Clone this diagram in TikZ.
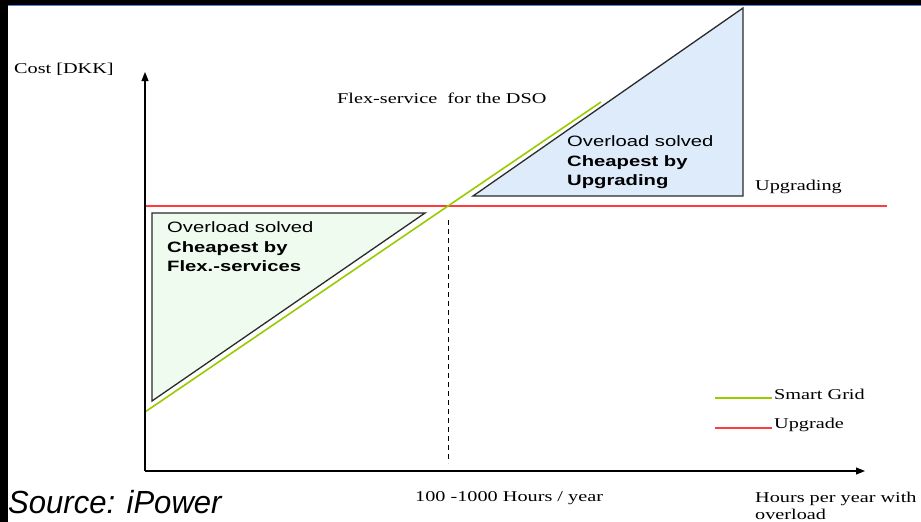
\documentclass[tikz,border=0pt]{standalone}
\usepackage{fontspec}
\setmainfont[FakeStretch=1.35]{Liberation Serif}
\newfontfamily\wsans[FakeStretch=1.35]{Liberation Sans}
\newfontfamily\nsans[FakeStretch=0.97]{Liberation Sans}
\usetikzlibrary{arrows.meta}
\definecolor{sgreen}{HTML}{99CC00}
\definecolor{ured}{HTML}{FF3B3B}
\definecolor{tgreen}{HTML}{EEFBEE}
\definecolor{tblue}{HTML}{DDEBFA}
\definecolor{frameblue}{HTML}{4A86D8}
\definecolor{edge}{HTML}{2A2A2A}
\begin{document}
\begin{tikzpicture}[x=1pt,y=-1pt,
  lbl/.style={inner sep=0pt,anchor=base west,font=\fontsize{15}{17}\selectfont},
  tlbl/.style={inner sep=0pt,anchor=base west,font=\wsans\fontsize{15}{17}\selectfont},
  tbold/.style={tlbl,font=\wsans\bfseries\fontsize{15}{17}\selectfont},
  axisline/.style={line width=1.1pt,-{Triangle[length=9pt,width=7pt]}},
  tri/.style={draw=edge,line width=1.3pt,line join=miter},
  smart/.style={draw=sgreen,line width=1.6pt},
  upg/.style={draw=ured,line width=1.6pt}]
\useasboundingbox (0,0) rectangle (921,522);
\fill[white] (0,0) rectangle (921,522);
\fill[black] (0,0) rectangle (921,5);
\draw[frameblue,line width=1.2pt] (8,5.6) -- (921,5.6);
\fill[black] (0,0) rectangle (8,522);

% coordinates
\coordinate (O) at (145,471);
\coordinate (ytip) at (145,72);
\coordinate (xtip) at (865,471);
\coordinate (ra) at (145,206);
\coordinate (rb) at (887,206);
\coordinate (ga) at (145,412);
\coordinate (gb) at (601,102);
\coordinate (da) at (448,220);
\coordinate (db) at (448,463);
\coordinate (l1) at (152,401);
\coordinate (l2) at (152,213);
\coordinate (l3) at (425,213);
\coordinate (r1) at (473,196);
\coordinate (r2) at (743,196);
\coordinate (r3) at (743,8);

% triangles
\filldraw[tri,fill=tgreen] (l1) -- (l2) -- (l3) -- cycle;
\filldraw[tri,fill=tblue] (r1) -- (r2) -- (r3) -- cycle;

% lines
\draw[upg] (ra) -- (rb);
\draw[smart] (ga) -- (gb);
\draw[line width=1pt,dash pattern=on 5pt off 4pt] (da) -- (db);

% axes
\draw[axisline] (O) -- (ytip);
\draw[axisline] (O) -- (xtip);

% labels
\node[lbl] (cost) at (14,73) {Cost [DKK]};
\node[lbl] (flex) at (337,103) {Flex-service\ \ for the DSO};
\node[lbl] (upgl) at (755,190) {Upgrading};
\node[lbl] (hrs) at (415,501) {100 -1000 Hours / year};
\node[lbl] (hpy1) at (755,502) {Hours per year with};
\node[lbl] (hpy2) at (755,519) {overload};

\node[tlbl] (lt1) at (167,232) {Overload solved};
\node[tbold] (lt2) at (167,252) {Cheapest by};
\node[tbold] (lt3) at (167,271) {Flex.-services};
\node[tlbl] (rt1) at (567,146) {Overload solved};
\node[tbold] (rt2) at (567,166) {Cheapest by};
\node[tbold] (rt3) at (567,185) {Upgrading};

% legend
\coordinate (lga) at (715,398);
\coordinate (lgb) at (772,398);
\coordinate (lra) at (715,428);
\coordinate (lrb) at (772,428);
\draw[smart,line width=1.3pt] (lga) -- (lgb);
\draw[upg,line width=1.3pt] (lra) -- (lrb);
\node[lbl] (sg) at (774,399) {Smart Grid};
\node[lbl] (ug) at (774,428) {Upgrade};

\node[inner sep=0pt,anchor=base west,font=\nsans\itshape\fontsize{32}{36}\selectfont] (src) at (8,513) {Source: iPower};
\end{tikzpicture}
\end{document}
